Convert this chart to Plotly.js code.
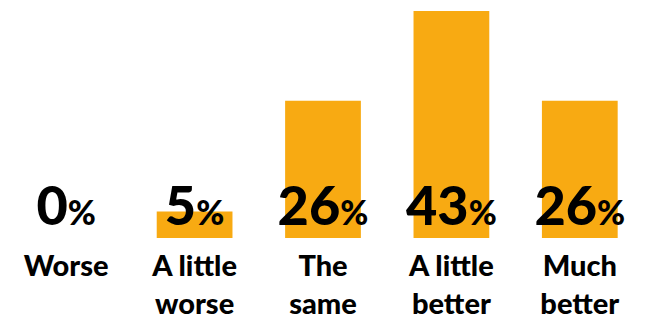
<!DOCTYPE html>
<html>
<head>
<meta charset="utf-8">
<script src="https://cdn.plot.ly/plotly-3.0.1.min.js"></script>
<style>html,body{margin:0;padding:0;background:#fff;}#chart{width:648px;height:320px;}</style>
</head>
<body>
<div id="chart"></div>
<script>
const categories = ["Worse", "A little<br>worse", "The<br>same", "A little<br>better", "Much<br>better"];
const values = [0, 5, 26, 43, 26];
const valueLabels = values.map(v => v + '<span style="font-size:34px">%</span>');

const barColor = '#F8AA12';
const fontFamily = 'Lato, "Open Sans", sans-serif';

const data = [
  {
    type: 'bar',
    x: categories,
    y: values,
    marker: {color: barColor},
    hoverinfo: 'none'
  },
  {
    type: 'scatter',
    mode: 'text',
    x: categories,
    y: values.map(() => 0),
    text: valueLabels,
    textposition: 'top center',
    textfont: {family: fontFamily, size: 54, color: '#000', weight: 900},
    hoverinfo: 'none',
    cliponaxis: false
  }
];

const layout = {
  width: 648,
  height: 320,
  margin: {l: 2, r: 4, t: 11, b: 82},
  paper_bgcolor: '#fff',
  plot_bgcolor: '#fff',
  showlegend: false,
  bargap: 0.41,
  xaxis: {
    type: 'category',
    range: [-0.5, 4.5],
    showgrid: false,
    zeroline: false,
    showline: false,
    ticks: '',
    ticklabelstandoff: 8,
    tickfont: {family: fontFamily, size: 29, color: '#000', weight: 900},
    fixedrange: true
  },
  yaxis: {
    range: [0, 43],
    visible: false,
    showgrid: false,
    zeroline: false,
    fixedrange: true
  }
};

Plotly.newPlot('chart', data, layout, {displayModeBar: false, staticPlot: true});
</script>
</body>
</html>
